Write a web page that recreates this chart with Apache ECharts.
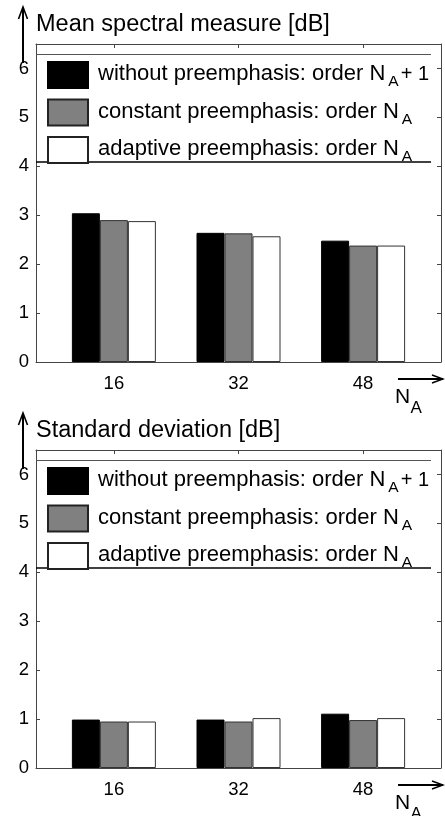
<!DOCTYPE html>
<html><head><meta charset="utf-8">
<script src="https://cdn.jsdelivr.net/npm/echarts@6/dist/echarts.min.js"></script>
<style>html,body{margin:0;padding:0;background:#fff}#c{width:445px;height:816px}</style>
</head><body><div id="c"></div>
<script>
// ---- data ----
const orders = [16, 32, 48];
const seriesNames = ['without preemphasis: order N_A + 1', 'constant preemphasis: order N_A', 'adaptive preemphasis: order N_A'];
const meanWithout = [3.04, 2.64, 2.48];
const meanConstant = [2.90, 2.63, 2.38];
const meanAdaptive = [2.88, 2.57, 2.38];
const stdWithout = [0.99, 0.99, 1.11];
const stdConstant = [0.95, 0.95, 0.98];
const stdAdaptive = [0.95, 1.02, 1.02];
const yTicks = [0, 1, 2, 3, 4, 5, 6];
const titles = ['Mean spectral measure [dB]', 'Standard deviation [dB]'];

// ---- styling ----
const FONT = "'Liberation Sans', Arial, Helvetica, sans-serif";
const fills = ['#000000', '#808080', '#ffffff'];
const borders = ['#000000', '#333333', '#333333'];
const AX = '#444';
const DY = 406;

const chart = echarts.init(document.getElementById('c'), null, {renderer: 'canvas'});

const grids = [], xAxes = [], yAxes = [], series = [], legends = [], graphics = [];
const panels = [[meanWithout, meanConstant, meanAdaptive], [stdWithout, stdConstant, stdAdaptive]];

panels.forEach((vals, p) => {
  const dy = p * DY;
  grids.push({left: 36, top: 44 + dy, width: 405, height: 318, containLabel: false});
  xAxes.push({
    type: 'value', gridIndex: p, position: 'bottom', min: 6, max: 58,
    axisLine: {show: true, onZero: false, lineStyle: {color: AX, width: 1}},
    axisTick: {show: true, inside: true, length: 4, customValues: orders, lineStyle: {color: AX}},
    axisLabel: {show: true, customValues: orders, fontSize: 18.5, fontFamily: FONT, color: '#000', margin: 12},
    splitLine: {show: false}
  });
  xAxes.push({
    type: 'value', gridIndex: p, position: 'top', min: 6, max: 58,
    axisLine: {show: true, onZero: false, lineStyle: {color: AX, width: 1}},
    axisTick: {show: true, inside: true, length: 4, customValues: orders, lineStyle: {color: AX}},
    axisLabel: {show: false},
    splitLine: {show: false}
  });
  yAxes.push({
    type: 'value', gridIndex: p, position: 'left', min: 0, max: 6.5,
    axisLine: {show: true, onZero: false, lineStyle: {color: AX, width: 1}},
    axisTick: {show: true, inside: true, length: 4, customValues: yTicks, lineStyle: {color: AX}},
    axisLabel: {show: true, customValues: yTicks, fontSize: 18.5, fontFamily: FONT, color: '#000', margin: 7},
    splitLine: {show: false}
  });
  yAxes.push({
    type: 'value', gridIndex: p, position: 'right', min: 0, max: 6.5,
    axisLine: {show: true, onZero: false, lineStyle: {color: AX, width: 1}},
    axisTick: {show: true, inside: true, length: 4, customValues: yTicks, lineStyle: {color: AX}},
    axisLabel: {show: false},
    splitLine: {show: false}
  });
  vals.forEach((arr, k) => {
    series.push({
      type: 'bar', name: seriesNames[k], xAxisIndex: p * 2, yAxisIndex: p * 2,
      data: orders.map((o, i) => [o, arr[i]]),
      barWidth: 28, barGap: '0%',
      itemStyle: {color: fills[k], borderColor: borders[k], borderWidth: 1},
      emphasis: {disabled: true}
    });
  });
  legends.push({
    orient: 'vertical', left: 47, top: 61 + dy, padding: 0, itemGap: 8.5,
    itemWidth: 40, itemHeight: 26, icon: 'rect', selectedMode: false, z: 10,
    data: seriesNames.map((n, k) => ({name: n, itemStyle: {color: fills[k], borderColor: k === 0 ? '#000' : '#222', borderWidth: 2}})),
    formatter: function (name) {
      const parts = name.split('N_A');
      let s = '{m0|' + parts[0] + 'N}{s|A}';
      if (parts[1] && parts[1].trim()) s += '{t|' + parts[1].replace(/^ /, '') + '}';
      return s;
    },
    textStyle: {
      fontFamily: FONT, color: '#000', fontSize: 22, lineHeight: 24,
      rich: {
        m0: {fontFamily: FONT, fontSize: 22, height: 22, lineHeight: 24, verticalAlign: 'top', padding: [0, 0, 0, 5], color: '#000'},
        t: {fontFamily: FONT, fontSize: 20, height: 22, lineHeight: 24, verticalAlign: 'top', padding: [0, 0, 0, 2], color: '#000'},
        s: {fontFamily: FONT, fontSize: 15.5, height: 11, lineHeight: 24, verticalAlign: 'top', padding: [13.5, 0, 0, 3], color: '#000'}
      }
    }
  });
  // decorations: legend backdrop/frame, title, arrows, axis name
  graphics.push(
    {type: 'rect', z: 8, shape: {x: 37, y: 54 + dy, width: 394, height: 108}, style: {fill: '#fff'}, silent: true},
    {type: 'line', z: 9, shape: {x1: 36, y1: 54.5 + dy, x2: 431, y2: 54.5 + dy}, style: {stroke: '#555', lineWidth: 1}, silent: true},
    {type: 'line', z: 9, shape: {x1: 36, y1: 162 + dy, x2: 431, y2: 162 + dy}, style: {stroke: '#000', lineWidth: 1.6}, silent: true},
    {type: 'text', z: 9, x: 36, y: 25 + dy, style: {text: titles[p], font: '23.5px ' + FONT, fill: '#000', verticalAlign: 'middle', align: 'left'}, silent: true},
    {type: 'polyline', z: 9, shape: {points: [[23, 63 + dy], [23, 8 + dy]]}, style: {stroke: '#000', lineWidth: 2, fill: null}, silent: true},
    {type: 'polyline', z: 9, shape: {points: [[18.5, 19 + dy], [23, 7 + dy], [27.5, 19 + dy]]}, style: {stroke: '#000', lineWidth: 1.6, fill: null}, silent: true},
    {type: 'polyline', z: 9, shape: {points: [[398, 379 + dy], [443, 379 + dy]]}, style: {stroke: '#000', lineWidth: 2, fill: null}, silent: true},
    {type: 'polyline', z: 9, shape: {points: [[432, 375 + dy], [443, 379 + dy], [432, 383 + dy]]}, style: {stroke: '#000', lineWidth: 1.6, fill: null}, silent: true},
    {type: 'text', z: 9, x: 395, y: 397.5 + dy, style: {text: 'N', font: '21px ' + FONT, fill: '#000', verticalAlign: 'middle', align: 'left'}, silent: true},
    {type: 'text', z: 9, x: 410.5, y: 408.5 + dy, style: {text: 'A', font: '17px ' + FONT, fill: '#000', verticalAlign: 'middle', align: 'left'}, silent: true}
  );
});

chart.setOption({
  animation: false,
  backgroundColor: '#fff',
  grid: grids,
  xAxis: xAxes,
  yAxis: yAxes,
  legend: legends,
  series: series,
  graphic: {elements: graphics}
});
</script>
</body></html>
